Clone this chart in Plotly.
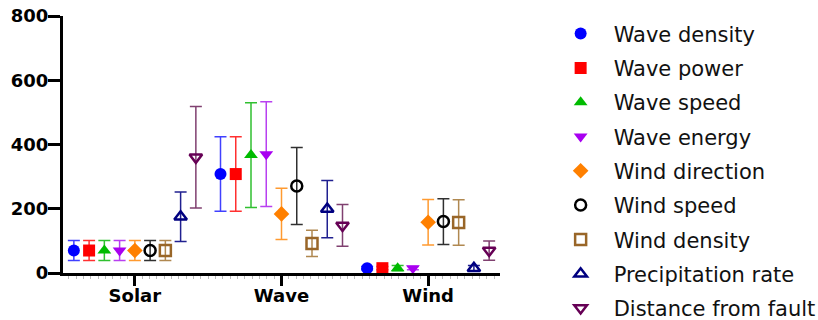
import plotly.graph_objects as go

categories = ["Solar", "Wave", "Wind"]
series_names = ["Wave density", "Wave power", "Wave speed", "Wave energy",
                "Wind direction", "Wind speed", "Wind density",
                "Precipitation rate", "Distance from fault"]
means = {
    "Wave density":        [70, 308, 15],
    "Wave power":          [70, 308, 15],
    "Wave speed":          [70, 367, 15],
    "Wave energy":         [70, 370, 15],
    "Wind direction":      [70, 184, 158],
    "Wind speed":          [70, 271, 160],
    "Wind density":        [70, 92, 157],
    "Precipitation rate":  [175, 199, 15],
    "Distance from fault": [360, 148, 70],
}
errors = {
    "Wave density":        [31, 116, 5],
    "Wave power":          [31, 116, 5],
    "Wave speed":          [31, 163, 8],
    "Wave energy":         [31, 163, 5],
    "Wind direction":      [31, 80, 71],
    "Wind speed":          [31, 120, 71],
    "Wind density":        [31, 41, 71],
    "Precipitation rate":  [77, 89, 8],
    "Distance from fault": [158, 65, 30],
}
y_ticks = [0, 200, 400, 600, 800]

colors = ["#0000FF", "#FF0000", "#00BB00", "#A800F0", "#FF8000",
          "#000000", "#996628", "#000080", "#660055"]
bar_colors = ["#4040FF", "#FF3030", "#30C030", "#B840F0", "#FF9A30",
              "#303030", "#B08850", "#202090", "#804070"]
symbols = ["circle", "square", "triangle-up", "triangle-down", "diamond",
           "circle-open", "square-open", "triangle-up-open", "triangle-down-open"]

fig = go.Figure()
step = 0.104
for i, name in enumerate(series_names):
    xs = [k + (i - 4) * step for k in range(len(categories))]
    is_open = symbols[i].endswith("open")
    fig.add_trace(go.Scatter(
        x=xs, y=means[name], mode="markers", name=name,
        legendgroup=name,
        marker=dict(symbol=symbols[i], size=12 if not is_open else 11,
                    color=colors[i],
                    line=dict(width=2.5 if is_open else 0, color=colors[i])),
        error_y=dict(type="data", array=errors[name], visible=True,
                     color=bar_colors[i], thickness=1.5, width=6),
        cliponaxis=False,
    ))

fig.update_layout(
    width=818, height=320,
    margin=dict(l=63, r=318, t=16, b=47, autoexpand=False),
    paper_bgcolor="white", plot_bgcolor="white",
    font=dict(family="DejaVu Sans", color="black"),
    showlegend=True,
    legend=dict(x=1.109, y=1.01, xanchor="left", yanchor="top",
                font=dict(size=21, family="DejaVu Sans", color="#111111"),
                tracegroupgap=4, itemwidth=56, maxheight=400,
                bgcolor="rgba(0,0,0,0)"),
    xaxis=dict(range=[-0.49, 2.49], tickvals=[0, 1, 2], ticktext=categories,
               showgrid=False, zeroline=False, showline=True, linecolor="black",
               linewidth=3, ticks="outside", ticklen=10, tickwidth=3,
               tickcolor="black", automargin=False, ticklabelstandoff=-6,
               tickfont=dict(size=18, family="DejaVu Sans", weight="bold"),
               minor=dict(dtick=0.05, ticks="outside", ticklen=3,
                          tickcolor="#bbbbbb", tickwidth=1, showgrid=False)),
    yaxis=dict(range=[0, 800], tickvals=y_ticks, showgrid=False,
               zeroline=False, showline=True, linecolor="black", linewidth=3,
               ticks="outside", ticklen=12, tickwidth=3, tickcolor="black",
               automargin=False, ticklabelstandoff=-4,
               tickfont=dict(size=18, family="DejaVu Sans", weight="bold")),
)

fig.write_html("out.html", config={"displayModeBar": False},
               post_script="document.body.style.margin='0';document.body.style.overflow='hidden';")
